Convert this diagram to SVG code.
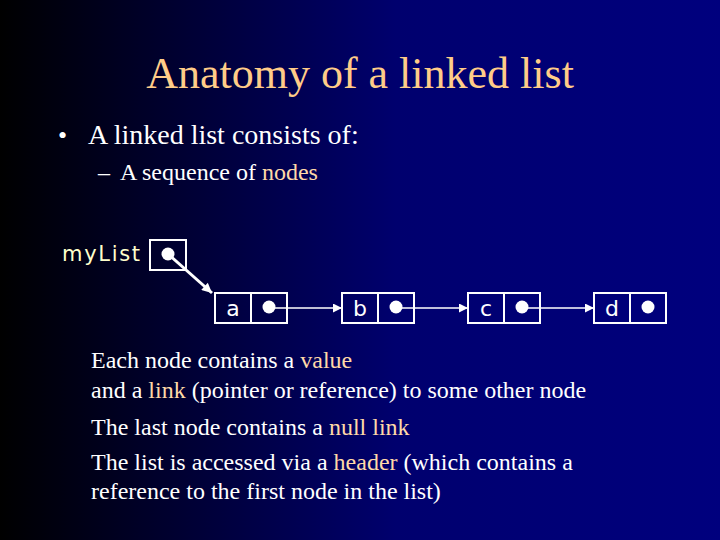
<svg xmlns="http://www.w3.org/2000/svg" width="720" height="540" viewBox="0 0 720 540">
<defs>
<linearGradient id="bg" x1="0" y1="0" x2="1" y2="0">
<stop offset="0" stop-color="#000000"/>
<stop offset="0.55" stop-color="#00006e"/>
<stop offset="1" stop-color="#00007e"/>
</linearGradient>
<marker id="ah" viewBox="0 0 10 10" refX="10" refY="5" markerWidth="11" markerHeight="9" markerUnits="userSpaceOnUse" orient="auto">
<path d="M0,0 L10,5 L0,10 z" fill="#ffffff"/>
</marker>
<marker id="ah2" viewBox="0 0 10 10" refX="10" refY="5" markerWidth="12" markerHeight="10" markerUnits="userSpaceOnUse" orient="auto">
<path d="M0,0 L10,5 L0,10 z" fill="#ffffff"/>
</marker>
</defs>
<style>
.tx{fill:#ffffff}
.hl{fill:#ffd9a8}
.box{fill:none;stroke:#ffffff;stroke-width:2}
.dot{fill:#ffffff}
.lbl{font-size:22px;fill:#ffffff;text-anchor:middle}
.conn{stroke:#ffffff;stroke-width:1.5;fill:none}
</style>
<rect width="720" height="540" fill="url(#bg)"/>
<g font-family="'Liberation Serif', 'Times New Roman', serif">
<text x="360" y="88" font-size="44" text-anchor="middle" fill="#ffcc88">Anatomy of a linked list</text>
<text class="tx" x="58" y="144" font-size="26">•</text>
<text class="tx" x="88" y="144" font-size="28">A linked list consists of:</text>
<text class="tx" x="98" y="180" font-size="24">–</text>
<text class="tx" x="120" y="180" font-size="24">A sequence of <tspan class="hl">nodes</tspan></text>
</g>
<g font-family="'DejaVu Sans', Verdana, sans-serif">
<g id="header">
<text x="62" y="261" font-size="21" fill="#ffffcc" textLength="78" lengthAdjust="spacing">myList</text>
<rect class="box" x="150" y="240" width="36" height="30"/>
<circle class="dot" cx="168" cy="254" r="6.5"/>
</g>
<g id="node-a">
<rect class="box" x="215" y="293" width="36" height="30"/>
<rect class="box" x="251" y="293" width="36" height="30"/>
<text class="lbl" x="233" y="316">a</text>
<circle class="dot" cx="269" cy="307" r="6.5"/>
</g>
<g id="node-b">
<rect class="box" x="342" y="293" width="36" height="30"/>
<rect class="box" x="378" y="293" width="36" height="30"/>
<text class="lbl" x="360" y="316">b</text>
<circle class="dot" cx="396" cy="307" r="6.5"/>
</g>
<g id="node-c">
<rect class="box" x="468" y="293" width="36" height="30"/>
<rect class="box" x="504" y="293" width="36" height="30"/>
<text class="lbl" x="486" y="316">c</text>
<circle class="dot" cx="522" cy="307" r="6.5"/>
</g>
<g id="node-d">
<rect class="box" x="594" y="293" width="36" height="30"/>
<rect class="box" x="630" y="293" width="36" height="30"/>
<text class="lbl" x="612" y="316">d</text>
<circle class="dot" cx="648" cy="307" r="6.5"/>
</g>
</g>
<g id="connectors">
<line x1="168" y1="254" x2="212" y2="293" stroke="#ffffff" stroke-width="3" marker-end="url(#ah2)"/>
<line class="conn" x1="269" y1="308" x2="342" y2="308" marker-end="url(#ah)"/>
<line class="conn" x1="396" y1="308" x2="468" y2="308" marker-end="url(#ah)"/>
<line class="conn" x1="522" y1="308" x2="594" y2="308" marker-end="url(#ah)"/>
</g>
<g font-family="'Liberation Serif', 'Times New Roman', serif" font-size="24">
<text class="tx" x="91" y="368">Each node contains a <tspan class="hl">value</tspan></text>
<text class="tx" x="91" y="398">and a <tspan class="hl">link</tspan> (pointer or reference) to some other node</text>
<text class="tx" x="91" y="435">The last node contains a <tspan class="hl">null link</tspan></text>
<text class="tx" x="91" y="470">The list is accessed via a <tspan class="hl">header</tspan> (which contains a</text>
<text class="tx" x="91" y="499">reference to the first node in the list)</text>
</g>
</svg>
